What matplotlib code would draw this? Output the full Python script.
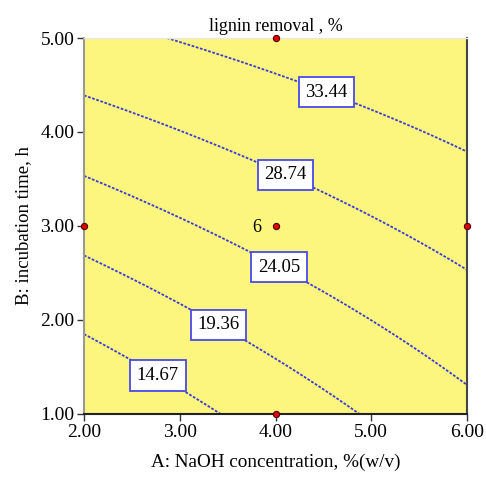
import numpy as np
import matplotlib
matplotlib.use("Agg")
import matplotlib.pyplot as plt

# Fitted quadratic response surface (coded units)
coef_b0 = 26.0
coef_A = 4.7
coef_B = 9.3
coef_AB = -1.8
coef_AA = -0.2
coef_BB = -0.15

levels = [14.67, 19.36, 24.05, 28.74, 33.44]
label_pos = [(2.79, 1.44), (3.43, 2.0), (4.10, 2.68), (4.13, 3.61), (4.57, 4.52)]

design_A = [4, 2, 4, 6, 4]
design_B = [5, 3, 3, 3, 1]

xticks = [2, 3, 4, 5, 6]
yticks = [1, 2, 3, 4, 5]

plt.rcParams['font.family'] = ['Liberation Serif', 'DejaVu Serif']

fig = plt.figure(figsize=(4.86, 4.78), dpi=100)
ax = fig.add_axes([0.1728, 0.1339, 0.961 - 0.1728, 0.9205 - 0.1339])
ax.set_facecolor('#fdf67e')

A = np.linspace(2, 6, 200)
B = np.linspace(1, 5, 200)
AA, BB = np.meshgrid(A, B)
a = (AA - 4) / 2
b = (BB - 3) / 2
Z = coef_b0 + coef_A * a + coef_B * b + coef_AB * a * b + coef_AA * a ** 2 + coef_BB * b ** 2

cs = ax.contour(AA, BB, Z, levels=levels, colors='#3a3ad8', linewidths=1.3,
                linestyles=[(0, (1.5, 0.9))])
texts = ax.clabel(cs, levels, inline=False, manual=label_pos, fmt='%.2f',
                  fontsize=13.5, colors='black')
for t in texts:
    t.set_rotation(0)
    t.set_color('black')
    t.set_zorder(6)
    t.set_bbox(dict(boxstyle='square,pad=0.35', facecolor='white',
                    edgecolor='#4a4ae8', linewidth=1.3))

ax.scatter(design_A, design_B, s=20, c='#e00000', edgecolors='#500000',
           linewidths=0.8, zorder=5, clip_on=False)
ax.text(3.85, 2.98, '6', fontsize=13, ha='right', va='center')

ax.set_xlim(2, 6)
ax.set_ylim(1, 5)
ax.set_xticks(xticks)
ax.set_xticklabels([f'{v:.2f}' for v in xticks])
ax.set_yticks(yticks)
ax.set_yticklabels([f'{v:.2f}' for v in yticks])
ax.tick_params(axis='both', direction='out', length=5, width=1, labelsize=14,
               color='#333333', pad=2)

ax.spines['left'].set_color('#999999')
ax.spines['left'].set_linewidth(1.5)
ax.spines['bottom'].set_color('#222222')
ax.spines['bottom'].set_linewidth(1.5)
ax.spines['right'].set_color('#444444')
ax.spines['right'].set_linewidth(1.5)
ax.spines['top'].set_color('#e8e8e8')
ax.spines['top'].set_linewidth(1.0)

ax.set_title('lignin removal , %', fontsize=13, pad=5)
ax.set_xlabel('A: NaOH concentration, %(w/v)', fontsize=13.8, labelpad=9)
ax.set_ylabel('B: incubation time, h', fontsize=13.5, labelpad=6)

fig.savefig('out.png', dpi=100)
